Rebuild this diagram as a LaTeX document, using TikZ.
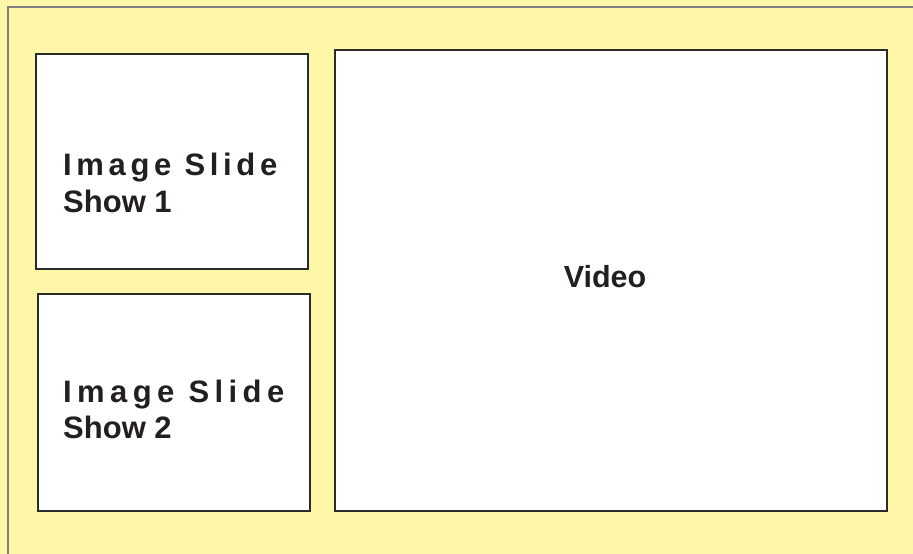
\documentclass[tikz,border=0pt]{standalone}
\usepackage{fontspec}
\setmainfont{Liberation Sans}
\newfontfamily\spacedfont[LetterSpace=15]{Liberation Sans}
\newfontfamily\widespacedfont[LetterSpace=17.5]{Liberation Sans}
\definecolor{padyellow}{HTML}{FFF7A8}
\definecolor{framegray}{HTML}{7F7F7F}
\definecolor{boxline}{HTML}{2B2B2B}
\definecolor{inktext}{HTML}{231F20}

\begin{document}
\begin{tikzpicture}[x=1pt, y=-1pt, line join=miter,
    panel/.style={draw=boxline, line width=2pt, fill=white, inner sep=0pt, anchor=north west},
    paneltext/.style={inner sep=0pt, anchor=base west, align=left, text=inktext, font=\bfseries\fontsize{31}{36.5}\selectfont}]
      % page
      \fill[padyellow] (0,0) rectangle (913,554);
      \useasboundingbox (0,0) rectangle (913,554);
      \draw[framegray, line width=2pt] (913,7) -- (8,7) -- (8,554);
      % panels
      \node[panel, minimum width=272pt, minimum height=215pt] (show1) at (35,53) {};
      \node[panel, minimum width=272pt, minimum height=217pt] (show2) at (37,293) {};
      \node[panel, minimum width=552pt, minimum height=461pt] (video) at (334,49) {};
      % labels (base = last line)
      \node[paneltext] (show1txt) at (63,212) {{\spacedfont Image Slide}\\Show 1};
      \node[paneltext] (show2txt) at (63,438.5) {{\widespacedfont Image Slide}\\Show 2};
      \node[inner sep=0pt, anchor=base, text=inktext, font=\bfseries\fontsize{30.5}{36}\selectfont] (videotxt) at (605,287) {Video};
    \end{tikzpicture}
\end{document}
